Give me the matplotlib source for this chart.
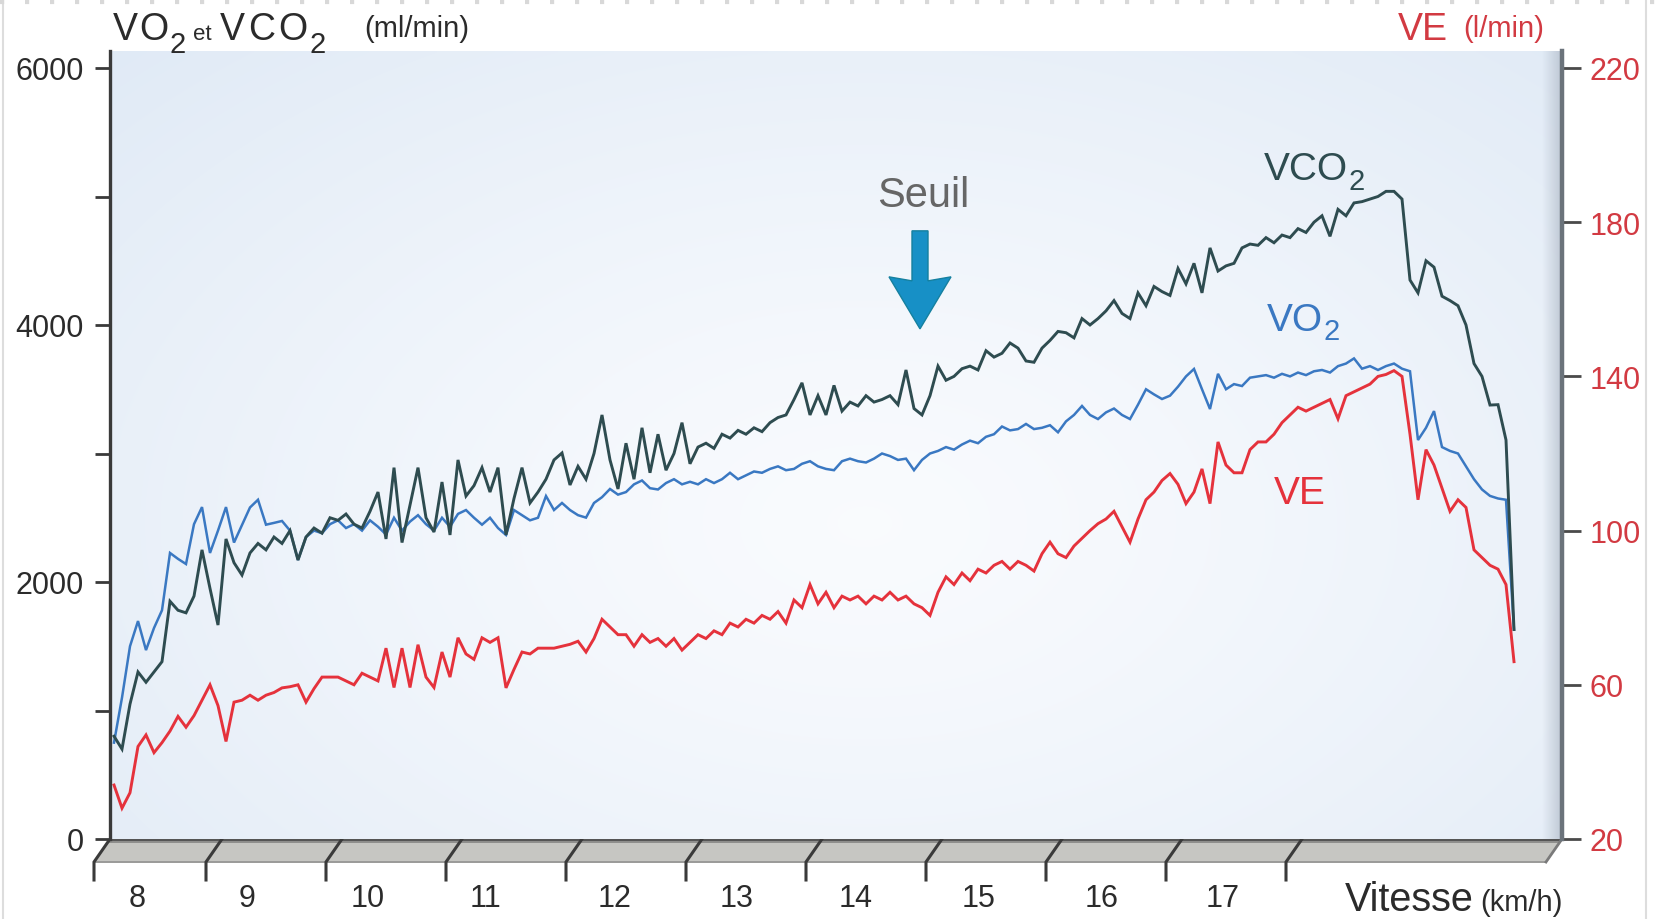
import numpy as np
import matplotlib
matplotlib.use("Agg")
import matplotlib.pyplot as plt
from matplotlib.patches import Polygon
from matplotlib.transforms import IdentityTransform
from matplotlib.lines import Line2D

plt.rcParams["font.family"] = ["Liberation Sans", "DejaVu Sans"]

# ---------------- data ----------------
TIME_S = list(range(2, 703, 4))  # sampling grid of the readings, seconds

VCO2_ML = [
    800, 700, 1050, 1300, 1220, 1300, 1380, 1850, 1780, 1760,
    1890, 2250, 1950, 1665, 2335, 2150, 2054, 2226, 2300, 2250,
    2350, 2300, 2400, 2171, 2350, 2420, 2380, 2500, 2480, 2529,
    2450, 2420, 2550, 2700, 2335, 2890, 2307, 2600, 2890, 2500,
    2389, 2778, 2366, 2950, 2669, 2750, 2890, 2700, 2890, 2366,
    2650, 2890, 2615, 2700, 2800, 2950, 3004, 2755, 2900, 2800,
    3000, 3300, 2950, 2724, 3080, 2800, 3200, 2850, 3150, 2870,
    3000, 3240, 2920, 3050, 3080, 3040, 3150, 3120, 3180, 3150,
    3200, 3170, 3240, 3280, 3300, 3420, 3550, 3300, 3450, 3300,
    3530, 3330, 3400, 3370, 3450, 3400, 3420, 3450, 3380, 3650,
    3350, 3300, 3450, 3680, 3570, 3600, 3660, 3680, 3650, 3800,
    3750, 3780, 3860, 3820, 3720, 3710, 3820, 3880, 3950, 3940,
    3900, 4050, 4000, 4050, 4110, 4190, 4090, 4050, 4250, 4150,
    4300, 4260, 4230, 4440, 4320, 4480, 4250, 4600, 4420, 4460,
    4480, 4600, 4630, 4620, 4680, 4640, 4700, 4680, 4750, 4720,
    4800, 4850, 4690, 4900, 4850, 4950, 4960, 4980, 5000, 5040,
    5040, 4980, 4350, 4250, 4500, 4450, 4224, 4190, 4150, 4000,
    3700, 3600, 3377, 3380, 3105, 1630,
]

VO2_ML = [
    750, 1100, 1500, 1696, 1470, 1642, 1780, 2226, 2180, 2140,
    2450, 2583, 2226, 2400, 2583, 2307, 2444, 2580, 2640, 2446,
    2460, 2475, 2400, 2171, 2350, 2400, 2380, 2450, 2480, 2420,
    2450, 2400, 2480, 2430, 2370, 2500, 2400, 2470, 2520, 2450,
    2400, 2500, 2430, 2530, 2560, 2500, 2446, 2500, 2420, 2366,
    2560, 2520, 2480, 2500, 2669, 2560, 2615, 2560, 2520, 2501,
    2615, 2660, 2724, 2680, 2700, 2760, 2790, 2730, 2720, 2770,
    2800, 2760, 2780, 2760, 2800, 2770, 2800, 2850, 2800, 2830,
    2860, 2850, 2880, 2900, 2870, 2880, 2920, 2940, 2900, 2880,
    2870, 2940, 2960, 2940, 2930, 2960, 3000, 2980, 2950, 2960,
    2870, 2950, 3000, 3020, 3050, 3030, 3070, 3100, 3080, 3130,
    3150, 3210, 3180, 3190, 3230, 3190, 3200, 3220, 3165, 3250,
    3300, 3370, 3300, 3268, 3320, 3350, 3300, 3268, 3380, 3500,
    3460, 3424, 3450, 3520, 3600, 3658, 3500, 3346, 3620, 3500,
    3540, 3525, 3590, 3600, 3610, 3590, 3620, 3600, 3630, 3610,
    3640, 3650, 3630, 3680, 3700, 3740, 3660, 3680, 3650, 3680,
    3700, 3660, 3640, 3105, 3200, 3330, 3050, 3020, 3000, 2900,
    2800, 2720, 2670, 2650, 2640, 1630,
]

VE_LMIN = [
    34, 28, 32, 44, 47, 42.4, 45, 48, 51.8, 49,
    52, 56, 60, 54.6, 45.3, 55.5, 56, 57.3, 56, 57.3,
    58, 59.2, 59.5, 60, 55.5, 59, 62, 62, 62, 61,
    60, 63, 62, 61, 69.5, 59.3, 69.5, 59.3, 70.4, 62,
    59.3, 68.5, 62, 72.2, 68, 66.6, 72.2, 71, 72.2, 59.2,
    64, 68.5, 68, 69.5, 69.5, 69.5, 70, 70.5, 71.3, 68.5,
    72, 77, 75, 73, 73, 70, 73, 71, 72, 70,
    72, 69, 71, 73, 72, 74, 73, 76, 75, 77,
    76, 78, 77, 79, 76, 82, 80, 86, 81, 84,
    80, 83, 82, 83, 81, 83, 82, 84, 82, 83,
    81, 80, 78, 84, 88, 86, 89, 87, 90, 89,
    91, 92, 90, 92, 91, 89.5, 94, 97, 94, 93,
    96, 98, 100, 101.8, 103, 105, 101, 97, 103, 108,
    110, 113, 114.8, 112, 107, 110, 116, 107, 123, 117,
    115, 115, 121, 123, 123, 125, 128, 130, 132, 131,
    132, 133, 134, 129, 135, 136, 137, 138, 140, 140.5,
    141.5, 140, 125, 108, 121, 117, 111, 105, 108, 106,
    95, 93, 91, 90, 86, 66,
]

SPEED_LABELS = ["8", "9", "10", "11", "12", "13", "14", "15", "16", "17"]
STAGE_TICK_S = [56, 116, 176, 236, 296, 356, 416, 476, 536, 596]
LEFT_MAJOR = [0, 2000, 4000, 6000]
LEFT_MINOR = [1000, 3000, 5000]
RIGHT_TICKS = [20, 60, 100, 140, 180, 220]
SEUIL_S = 405
SEUIL_TIP_ML = 3970

assert len(TIME_S) == len(VCO2_ML) == len(VO2_ML) == len(VE_LMIN)

# ---------------- layout / styles ----------------
SPEED_LABEL_POS_S = [13.5, 68.5, 129, 188, 252.5, 313.5, 373, 434.5, 496, 556.5]

C_VCO2 = "#2e4c50"
C_VO2 = "#3a78c2"
C_VE = "#e5323c"
C_DARK = "#2b2b2b"
C_RED_TXT = "#d23a42"
C_ARROW = "#1790c6"

W, H, DPI = 1658, 920, 100
fig = plt.figure(figsize=(W / DPI, H / DPI), dpi=DPI)
fig.patch.set_facecolor("white")
renderer = fig.canvas.get_renderer()


def frect(x0, y0, x1, y1):
    """pixel box (from top-left) -> figure fraction rect"""
    return [x0 / W, 1 - y1 / H, (x1 - x0) / W, (y1 - y0) / H]


def ptext(x, y, s, size, color, ha="left", va="baseline", **kw):
    return fig.text(x / W, 1 - y / H, s, fontsize=size, color=color,
                    ha=ha, va=va, **kw)


def seq_text(x, parts, color):
    """place text pieces one after another; parts = (text, size, baseline_y, gap)"""
    for s, size, y, gap in parts:
        t = ptext(x, y, s, size, color)
        x += t.get_window_extent(renderer).width + gap
    return x


PANEL = (110, 52, 1562, 840)

# background gradient panel
bg = fig.add_axes(frect(*PANEL), zorder=0)
bg.set_xlim(0, 1)
bg.set_ylim(0, 1)
bg.axis("off")
ny, nx = 240, 360
yy, xx = np.mgrid[0:1:ny * 1j, 0:1:nx * 1j]
d = np.sqrt(((xx - 0.52) / 0.78) ** 2 + ((yy - 0.40) / 0.9) ** 2)
d = np.clip(d, 0, 1) ** 1.25
c_in = np.array([0.978, 0.985, 0.996])
c_out = np.array([0.872, 0.913, 0.962])
img = c_in + (c_out - c_in) * d[..., None]
bg.imshow(img, extent=(0, 1, 0, 1), origin="lower", aspect="auto",
          interpolation="bilinear")
# right side wall shading
wall_w = 20 / (PANEL[2] - PANEL[0])
wall = np.zeros((2, 60, 4))
wall[..., 0] = 0.70
wall[..., 1] = 0.74
wall[..., 2] = 0.79
wall[..., 3] = np.linspace(0, 0.75, 60)[None, :]
bg.imshow(wall, extent=(1 - wall_w, 1, 0, 1), origin="lower", aspect="auto",
          interpolation="bilinear")

# main axes
ax = fig.add_axes(frect(*PANEL), zorder=2)
ax.patch.set_visible(False)
ax.set_xlim(0, (PANEL[2] - PANEL[0]) / 2)
top_ml = (PANEL[3] - PANEL[1]) / 0.1285
ax.set_ylim(0, top_ml)
ax2 = ax.twinx()
ax2.set_zorder(3)
ax2.patch.set_visible(False)
ax2.set_ylim(20, 20 + top_ml / 30)

ax.plot(TIME_S, VO2_ML, color=C_VO2, lw=1.8, solid_joinstyle="miter", zorder=3)
ax.plot(TIME_S, VCO2_ML, color=C_VCO2, lw=2.1, solid_joinstyle="miter", zorder=4)
ax2.plot(TIME_S, VE_LMIN, color=C_VE, lw=2.1, solid_joinstyle="miter", zorder=5)

for a in (ax, ax2):
    a.spines["top"].set_visible(False)
    a.spines["bottom"].set_visible(False)
    a.set_xticks([])
ax.spines["right"].set_visible(False)
ax2.spines["left"].set_visible(False)
ax.spines["left"].set_color("#3a3a3a")
ax.spines["left"].set_linewidth(2.4)
ax2.spines["right"].set_color("#6b737b")
ax2.spines["right"].set_linewidth(3.2)

ax.set_yticks(LEFT_MAJOR)
ax.set_yticklabels([str(v) for v in LEFT_MAJOR])
ax.set_yticks(LEFT_MINOR, minor=True)
ax.tick_params(axis="y", which="both", length=11, width=2, color="#3a3a3a",
               pad=8, labelsize=22, labelcolor=C_DARK)
ax2.set_yticks(RIGHT_TICKS)
ax2.set_yticklabels([str(v) for v in RIGHT_TICKS])
ax2.tick_params(axis="y", length=14, width=2, color="#4a4a4a", pad=6,
                labelsize=22, labelcolor=C_RED_TXT)

# ---------------- 3D base with speed stages ----------------
base = fig.add_axes(frect(80, 840, 1580, 885), zorder=1)
base.set_xlim(-15, 735)
base.set_ylim(0, 45)
base.axis("off")
xr = (PANEL[2] - PANEL[0]) / 2
band = Polygon([(0, 45), (xr, 45), (xr - 8, 22), (-8, 22)], closed=True,
               facecolor="#c6c6c2", edgecolor="none")
base.add_patch(band)
band_top = Polygon([(0, 45), (xr, 45), (xr - 1.5, 41), (-1.5, 41)], closed=True,
                   facecolor="#8f8f8d", edgecolor="none")
base.add_patch(band_top)
base.plot([0, xr], [45, 45], color="#555555", lw=2.2, solid_capstyle="butt")
base.plot([-8, xr - 8], [22, 22], color="#9a9a98", lw=1.4)
base.plot([xr, xr - 8], [45, 22], color="#7a7a7a", lw=2)
for tk in [0] + STAGE_TICK_S:
    base.plot([tk, tk - 8, tk - 8], [45, 22, 4], color="#3a3a3a", lw=2.2,
              solid_joinstyle="miter")
for pos, lab in zip(SPEED_LABEL_POS_S, SPEED_LABELS):
    base.text(pos, -14, lab, ha="center", va="center", fontsize=22,
              color=C_DARK, clip_on=False)

# ---------------- texts ----------------
seq_text(113, [("V", 27, 40, 1), ("O", 27, 40, 1), ("2", 21, 53, 8),
               ("et", 16, 40, 8), ("V", 27, 40, 3), ("C", 27, 40, 3),
               ("O", 27, 40, 2), ("2", 21, 53, 0)], C_DARK)
ptext(364, 37, "(ml/min)", 21, C_DARK)

ptext(1398, 40, "VE", 27, C_RED_TXT)
ptext(1463, 37, "(l/min)", 21, C_RED_TXT)

ptext(1345, 911, "Vitesse", 28.5, C_DARK)
ptext(1480, 911, "(km/h)", 21, C_DARK)

seq_text(1264, [("VCO", 28, 180, 0), ("2", 21, 190, 0)], C_VCO2)
seq_text(1267, [("VO", 28, 331, 0), ("2", 21, 340, 0)], C_VO2)
ptext(1274, 504, "VE", 28, C_VE)
ptext(877, 207, "Seuil", 30, "#666666")

# threshold arrow (pixel geometry anchored on data point)
tip = ax.transData.transform((SEUIL_S, SEUIL_TIP_ML))
shape = [(0, 0), (31, 52), (8, 48), (8, 98), (-8, 98), (-8, 48), (-31, 52)]
arrow = Polygon([(tip[0] + dx, tip[1] + dy) for dx, dy in shape], closed=True,
                facecolor=C_ARROW, edgecolor="#15809f", lw=1.0,
                transform=IdentityTransform(), zorder=6)
fig.add_artist(arrow)

# faint frame of the original picture
fig.add_artist(Line2D([3 / W, 3 / W], [0, 1], color="#dddddd", lw=1.5))
fig.add_artist(Line2D([1646 / W, 1646 / W], [0, 1], color="#dddddd", lw=1.5))
fig.add_artist(Line2D([0, 1], [1 - 3 / H, 1 - 3 / H], color="#d8d8d8", lw=3,
                      linestyle=(0, (1, 5))))

fig.savefig("out.png", dpi=DPI, facecolor="white")
